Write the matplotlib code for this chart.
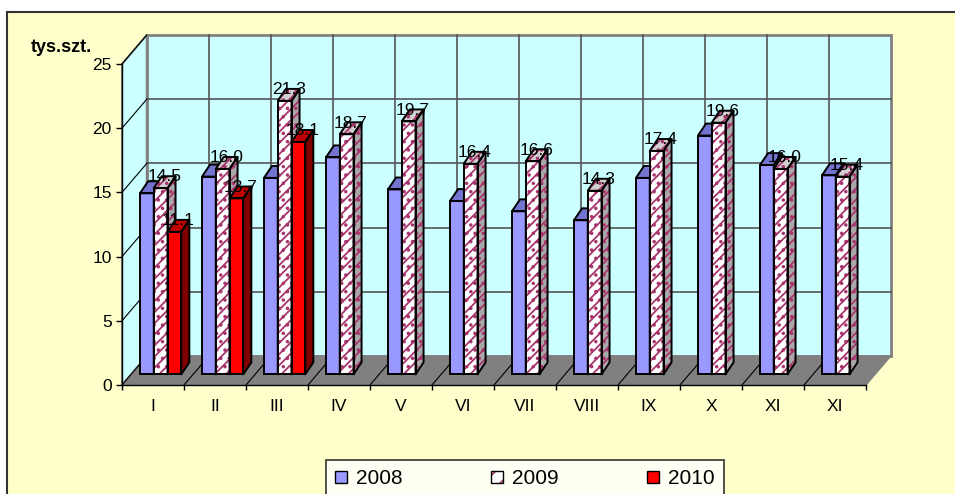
import matplotlib

matplotlib.use("Agg")
import matplotlib.pyplot as plt
from matplotlib.patches import Polygon, Rectangle, Patch
from matplotlib.collections import PolyCollection
from matplotlib.legend_handler import HandlerTuple
import numpy as np

# dane (tys. szt.)
months = ["I", "II", "III", "IV", "V", "VI", "VII", "VIII", "IX", "X", "XI", "XI"]
v2008 = [14.1, 15.4, 15.3, 16.9, 14.4, 13.5, 12.7, 12.0, 15.3, 18.6, 16.3, 15.5]
v2009 = [14.5, 16.0, 21.3, 18.7, 19.7, 16.4, 16.6, 14.3, 17.4, 19.6, 16.0, 15.4]
v2010 = [11.1, 13.7, 18.1]
years = ["2008", "2009", "2010"]

# kolory w stylu Excela
YELLOW = "#FFFFCC"
CYAN = "#CCFFFF"
FLOOR = "#808080"
GRID = "#555555"
PLUM = "#A8346E"
BLUE, BLUE_TOP, BLUE_SIDE = "#9999FF", "#7373D0", "#4D4D99"
RED, RED_TOP, RED_SIDE = "#FF0000", "#C00000", "#800000"
PINK_TOP, PINK_SIDE = "#D0D0D0", "#A8A8A8"

# geometria pseudo-3D (w jednostkach danych)
WX, WY = 0.40, 2.26      # przesunięcie tylnej ściany
SX, SY = 0.12, 0.83      # przesunięcie przedniej ściany słupków
DX, DY = 0.13, 0.93      # głębokość słupka
W = 0.222                # szerokość słupka
LEFT = 0.17              # odstęp grupy od początku kategorii

plt.rcParams["font.family"] = ["Liberation Sans", "DejaVu Sans"]
plt.rcParams["hatch.linewidth"] = 1.3

fig = plt.figure(figsize=(9.55, 4.94), dpi=100)
fig.patch.set_facecolor("white")
fig.add_artist(Rectangle((7 / 955, -0.05), 1.0, (494 - 12) / 494 + 0.05,
                         transform=fig.transFigure, facecolor=YELLOW,
                         edgecolor="#333333", lw=1.5, zorder=-1))

ax = fig.add_axes([122 / 955, 109 / 494, 744 / 955, 321 / 494])
ax.set_facecolor("none")
ax.set_xlim(0, 12)
ax.set_ylim(0, 25)
n = len(months)

# ściany i podłoga
ax.add_patch(Rectangle((WX, WY), n, 25, facecolor=CYAN, edgecolor="#808080",
                       lw=2, zorder=0.5, clip_on=False))
ax.add_patch(Polygon([(0, 0), (WX, WY), (WX, 25 + WY), (0, 25)], closed=True,
                     facecolor=CYAN, edgecolor="#808080", lw=1.5, zorder=0.5,
                     clip_on=False))
ax.add_patch(Polygon([(0, 0), (n, 0), (n + WX, WY), (WX, WY)], closed=True,
                     facecolor=FLOOR, edgecolor=FLOOR, lw=1, zorder=0.6,
                     clip_on=False))
yt = np.arange(0, 26, 5)
for y in yt[1:-1]:
    ax.plot([WX, n + WX], [y + WY, y + WY], color=GRID, lw=1.2, zorder=0.7,
            clip_on=False)
for y in yt:
    ax.plot([0, WX], [y, y + WY], color="black", lw=0.8, zorder=0.7, clip_on=False)
for k in range(1, n):
    ax.plot([k + WX, k + WX], [WY, 25 + WY], color=GRID, lw=1.2, zorder=0.7,
            clip_on=False)
    ax.plot([k, k + WX], [0, WY], color="black", lw=0.8, zorder=0.7, clip_on=False)


def faces(x, v):
    x = np.asarray(x)
    v = np.asarray(v)
    top = [[(a, SY + h), (a + DX, SY + h + DY), (a + W + DX, SY + h + DY), (a + W, SY + h)]
           for a, h in zip(x, v)]
    side = [[(a + W, SY), (a + W + DX, SY + DY), (a + W + DX, SY + h + DY), (a + W, SY + h)]
            for a, h in zip(x, v)]
    return top, side


styles = [
    dict(front=BLUE, top=BLUE_TOP, side=BLUE_SIDE, hatch=None),
    dict(front="white", top=PINK_TOP, side=PINK_SIDE, hatch="///.."),
    dict(front=RED, top=RED_TOP, side=RED_SIDE, hatch=None),
]
values = [v2008, v2009, v2010]
for s, (vals, st) in enumerate(zip(values, styles)):
    x = np.arange(len(vals)) + LEFT + SX + s * W
    z = 2 + s
    top, side = faces(x, vals)
    hc = PLUM if st["hatch"] else "black"
    for polys, fc in ((side, st["side"]), (top, st["top"])):
        pc = PolyCollection(polys, facecolors=fc, edgecolors=hc, linewidths=0,
                            zorder=z, clip_on=False)
        if st["hatch"]:
            pc.set_hatch(st["hatch"])
        ax.add_collection(pc)
        ax.add_collection(PolyCollection(polys, facecolors="none", edgecolors="black",
                                         linewidths=1.4, zorder=z + 0.1, clip_on=False))
    ax.bar(x, vals, width=W, bottom=SY, align="edge", color=st["front"],
           edgecolor=hc, linewidth=0, hatch=st["hatch"], zorder=z, clip_on=False)
    ax.bar(x, vals, width=W, bottom=SY, align="edge", fill=False,
           edgecolor="black", linewidth=1.4, zorder=z + 0.1, clip_on=False)
    if s > 0:
        for a, h in zip(x, vals):
            ax.text(a + W / 2 + DX / 2, SY + h + 0.52, f"{h:.1f}", ha="center",
                    va="baseline", fontsize=12.5, zorder=10, clip_on=False)

# osie
for side_ in ("top", "right"):
    ax.spines[side_].set_visible(False)
for side_ in ("left", "bottom"):
    ax.spines[side_].set_color("black")
    ax.spines[side_].set_linewidth(1.0)
    ax.spines[side_].set_zorder(1)
ax.set_yticks(yt)
ax.tick_params(axis="y", length=4.3, width=1, pad=3, labelsize=12.5)
ax.set_xticks(np.arange(n) + 0.5)
ax.set_xticklabels(months)
ax.set_xticks(np.arange(n + 1), minor=True)
ax.tick_params(axis="x", which="major", length=0, pad=10, labelsize=12.5)
ax.tick_params(axis="x", which="minor", length=3.6, width=1)

fig.text(31 / 955, 1 - 52 / 494, "tys.szt.", fontsize=13, fontweight="bold",
         ha="left", va="baseline")

# legenda
h08 = Patch(facecolor=BLUE, edgecolor="black", lw=1)
h09 = (Patch(facecolor="white", edgecolor=PLUM, lw=0, hatch="//"),
       Patch(facecolor="none", edgecolor="black", lw=1))
h10 = Patch(facecolor=RED, edgecolor="black", lw=1)
leg = fig.legend([h08, h09, h10], years, loc="upper left",
                 bbox_to_anchor=(326 / 955, 1 - 460 / 494, 398 / 955, 0),
                 mode="expand", ncol=3, fontsize=15, frameon=True, fancybox=False,
                 borderaxespad=0, handlelength=0.55, handleheight=0.55,
                 handletextpad=0.45, borderpad=0.45,
                 handler_map={tuple: HandlerTuple(ndivide=1)})
leg.get_frame().set_edgecolor("black")
leg.get_frame().set_linewidth(1.2)
leg.get_frame().set_facecolor("white")

fig.savefig("out.png", dpi=100)
